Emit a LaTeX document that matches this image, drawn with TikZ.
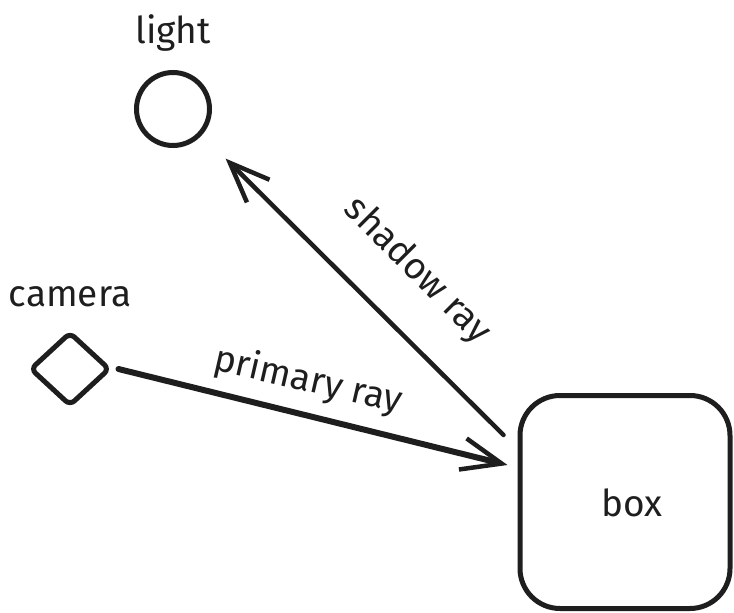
\documentclass[tikz,border=0pt]{standalone}
\usepackage{fontspec}
\setmainfont{Fira Sans}
\usetikzlibrary{shapes.geometric,arrows.meta}
\definecolor{ink}{HTML}{1E1E1E}
\begin{document}
\begin{tikzpicture}[x=1pt,y=-1pt,
  obj/.style={draw=ink,line width=5pt,inner sep=0pt},
  lbl/.style={text=ink,font=\fontsize{37}{40}\selectfont,inner sep=0pt},
  ray/.style={draw=ink,line width=4.5pt,line cap=round,
    -{Straight Barb[length=40pt,width=32pt,line width=4.5pt]}}]
  \useasboundingbox (0,0) rectangle (734,613);
  \clip (0,0) rectangle (734,613);

  % scene objects
  \node[obj,circle,minimum size=73pt] (light) at (173,109) {};
  \node[obj,diamond,minimum width=80pt,minimum height=74pt,rounded corners=6pt] (camera) at (70,369) {};
  \node[obj,rectangle,rounded corners=40pt,minimum width=210pt,minimum height=213pt] (box) at (625,502) {};

  % labels
  \node[lbl] (lightlbl) at (173,33) {light};
  \node[lbl] (cameralbl) at (70,297) {camera};
  \node[lbl] (boxlbl) at (632,503) {box};

  % rays
  \draw[ray,line width=6pt] ([xshift=6pt]camera.east) -- ([xshift=-10pt,yshift=37pt]box.west);
  \draw[ray] ([shift={(-14pt,67pt)}]box.west) -- ([shift={(25pt,-22pt)}]light.south east);

  \node[lbl,rotate=-13] (primarylbl) at (308,381) {primary ray};
  \node[lbl,rotate=-45] (shadowlbl) at (417,271) {shadow ray};
\end{tikzpicture}
\end{document}
